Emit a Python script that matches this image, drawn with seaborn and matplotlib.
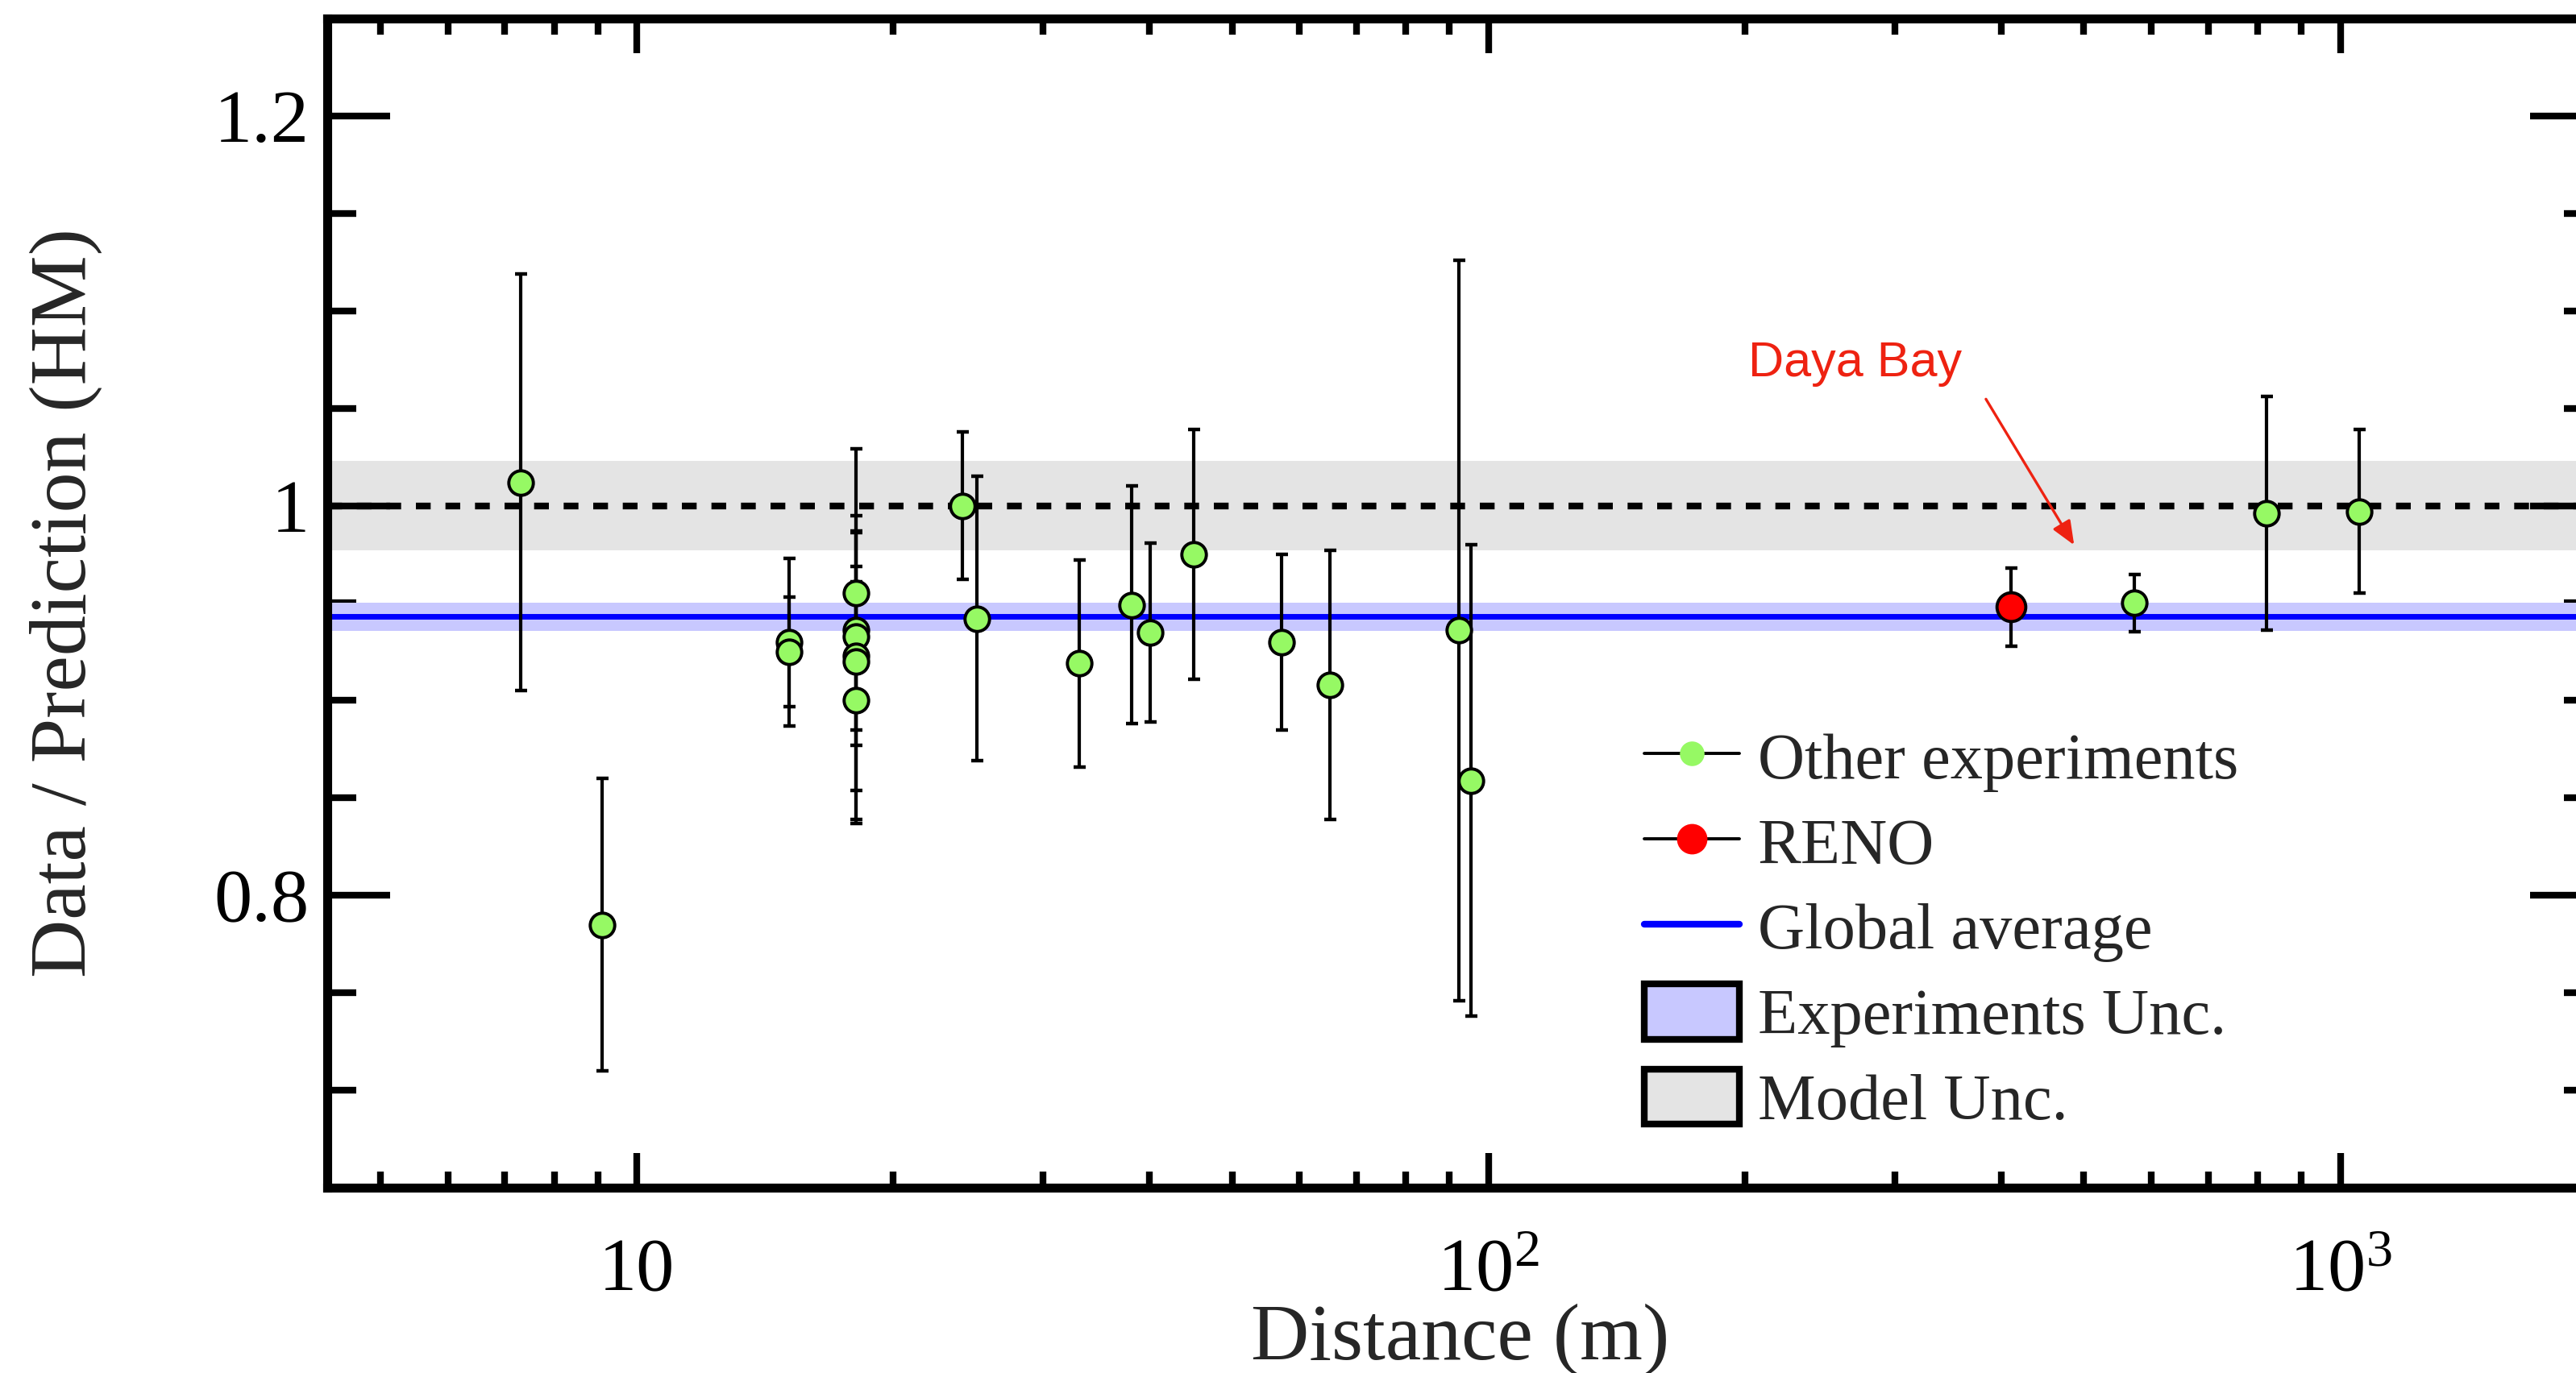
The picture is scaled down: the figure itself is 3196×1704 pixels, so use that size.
import numpy as np
import pandas as pd
import matplotlib
matplotlib.use("Agg")
import matplotlib.pyplot as plt
import seaborn as sns
from matplotlib.lines import Line2D
from matplotlib.patches import Patch
from matplotlib.ticker import FixedLocator, MultipleLocator, FuncFormatter

# reactor short-baseline data
dist_other = [7.3, 9.1, 15.1, 15.1, 18.1, 18.1, 18.1, 18.1, 18.1, 18.1,
              24.1, 25.1, 33.1, 38.1, 40.1, 45.1, 57.1, 65.1, 92.2, 95.3,
              573, 820, 1052]
ratio_other = [1.012, 0.785, 0.930, 0.925, 0.955, 0.936, 0.933, 0.923, 0.920, 0.900,
               1.000, 0.942, 0.919, 0.949, 0.935, 0.975, 0.930, 0.908, 0.936, 0.859,
               0.950, 0.996, 0.997]
err_other = [0.107, 0.075, 0.043, 0.028, 0.040, 0.051, 0.096, 0.046, 0.066, 0.061,
             0.038, 0.073, 0.053, 0.061, 0.046, 0.064, 0.045, 0.069, 0.190, 0.121,
             0.0145, 0.060, 0.042]

dist_reno = [411]
ratio_reno = [0.948]
err_reno = [0.020]

global_avg = 0.943
global_unc = 0.0074
model_unc = 0.023

green = "#96F964"
red = "#FF0000"

sns.set_theme(style="ticks")
plt.rcParams["font.family"] = ["Liberation Serif", "DejaVu Serif"]
plt.rcParams["mathtext.fontset"] = "custom"
plt.rcParams["mathtext.rm"] = "Liberation Serif"

df_other = pd.DataFrame({"distance": dist_other, "ratio": ratio_other, "err": err_other})
df_reno = pd.DataFrame({"distance": dist_reno, "ratio": ratio_reno, "err": err_reno})

fig = plt.figure(figsize=(15.98, 8.52), dpi=200)
ax = fig.add_axes([0.12703, 0.13498, 0.87954, 0.85152])

# bands and reference lines
ax.axhspan(1 - model_unc, 1 + model_unc, color="#e4e4e4", lw=0, zorder=0)
ax.axhspan(global_avg - global_unc, global_avg + global_unc, color="#c8c8ff", lw=0, zorder=1)
ax.axhline(1.0, color="black", lw=3, dashes=(2.2, 2.2), zorder=2)
ax.axhline(global_avg, color="#0000ff", lw=2.5, zorder=2)

# error bars
for d in (df_other, df_reno):
    ax.errorbar(d["distance"], d["ratio"], yerr=d["err"], fmt="none",
                ecolor="black", elinewidth=1.5, capsize=2.7, capthick=1.6, zorder=3)

sns.scatterplot(data=df_other, x="distance", y="ratio", ax=ax, color=green,
                s=120, edgecolor="black", linewidth=1.4, zorder=4, legend=False)
sns.scatterplot(data=df_reno, x="distance", y="ratio", ax=ax, color=red,
                s=165, edgecolor="black", linewidth=1.4, zorder=4, legend=False)

ax.set_xscale("log")
ax.set_xlim(4.33, 1980)
ax.set_ylim(0.65, 1.25)

# ticks
ax.xaxis.set_major_locator(FixedLocator([10, 100, 1000]))
ax.xaxis.set_minor_locator(FixedLocator([m * 10 ** e for e in range(0, 4) for m in range(2, 10)]))
ax.set_xticklabels(["10", r"$\mathregular{10^{2}}$", r"$\mathregular{10^{3}}$"])
ax.yaxis.set_major_locator(MultipleLocator(0.2))
ax.yaxis.set_minor_locator(MultipleLocator(0.05))
ax.yaxis.set_major_formatter(FuncFormatter(lambda v, p: "%g" % round(v, 3)))

ax.tick_params(axis="both", which="both", direction="in", colors="black", width=3,
               top=True, right=True, labelsize=34)
ax.tick_params(axis="y", which="major", length=28, pad=8)
ax.tick_params(axis="y", which="minor", length=13)
ax.tick_params(axis="x", which="major", length=15.5, pad=46)
ax.tick_params(axis="x", which="minor", length=7.2)
for lab in ax.get_xticklabels():
    lab.set_verticalalignment("baseline")

for sp in ax.spines.values():
    sp.set_linewidth(4)
    sp.set_color("black")

ax.set_xlabel("Distance (m)", fontsize=36)
ax.xaxis.label.set_verticalalignment("baseline")
ax.xaxis.set_label_coords(0.5, -0.1468)
ax.set_ylabel("Data / Prediction (HM)", fontsize=36)
ax.yaxis.label.set_verticalalignment("center")
ax.yaxis.set_label_coords(-0.1153, 0.5)

# Daya Bay annotation
ax.text(201.7, 1.0665, "Daya Bay", color="#EE2211", fontsize=22,
        family=["Liberation Sans", "DejaVu Sans"], va="baseline", ha="left")
ax.annotate("", xy=(487, 0.9798), xytext=(383.7, 1.0547),
            arrowprops=dict(arrowstyle="-|>,head_length=0.6,head_width=0.25",
                            color="#EE2211", lw=1.2, mutation_scale=15,
                            shrinkA=0, shrinkB=0))

handles = [
    Line2D([], [], color="black", lw=1.4, marker="o", markersize=10,
           markerfacecolor=green, markeredgecolor=green),
    Line2D([], [], color="black", lw=1.4, marker="o", markersize=12.6,
           markerfacecolor=red, markeredgecolor=red),
    Line2D([], [], color="#0000ff", lw=3),
    Patch(facecolor="#c8c8ff", edgecolor="black", lw=3),
    Patch(facecolor="#e4e4e4", edgecolor="black", lw=3),
]
labels = ["Other experiments", "RENO", "Global average", "Experiments Unc.", "Model Unc."]
ax.legend(handles, labels, loc="upper left", bbox_to_anchor=(0.5813, 0.3925),
          frameon=False, fontsize=29, borderaxespad=0, borderpad=0,
          handlelength=1.46, handleheight=0.93, handletextpad=0.29, labelspacing=0.33)

fig.savefig("out.png", dpi=200)
